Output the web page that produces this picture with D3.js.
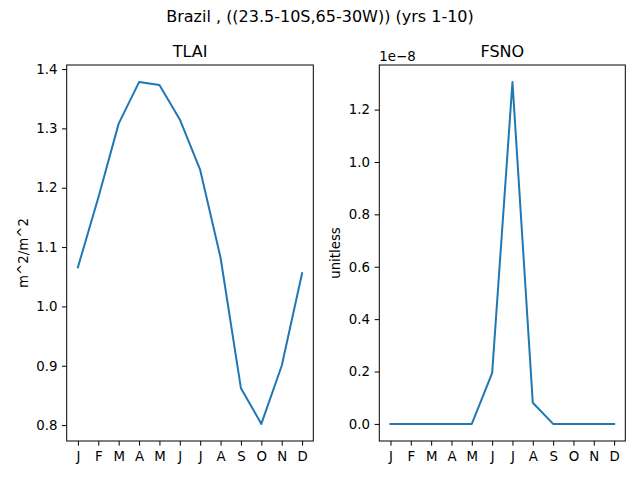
<!DOCTYPE html>
<meta charset="utf-8">
<style>
body { margin: 0; background: #fff; }
text { font-family: "DejaVu Sans", sans-serif; fill: #000; }
.tick text { font-size: 13.33px; }
.domain, .tick line { stroke: #000; stroke-width: 1; }
</style>
<body>
<script src="https://d3js.org/d3.v7.min.js"></script>
<script>

width = 640;
height = 480;

months = ["J", "F", "M", "A", "M", "J", "J", "A", "S", "O", "N", "D"];

// monthly means
tlai = [1.066, 1.183, 1.308, 1.378, 1.373, 1.315, 1.230, 1.082, 0.862, 0.802, 0.900, 1.056];
fsno = [0, 0, 0, 0, 0, 0.194e-8, 1.305e-8, 0.081e-8, 0, 0, 0, 0];

tlaiTicks = [0.8, 0.9, 1.0, 1.1, 1.2, 1.3, 1.4];
fsnoTicks = [0, 0.2e-8, 0.4e-8, 0.6e-8, 0.8e-8, 1.0e-8, 1.2e-8];

panels = [
  {title: "TLAI", ylabel: "m^2/m^2", values: tlai, ticks: tlaiTicks,
   left: 66.7, right: 313.3, labelX: 27.5, fmt: d => d.toFixed(1), offset: null},
  {title: "FSNO", ylabel: "unitless", values: fsno, ticks: fsnoTicks,
   left: 379.3, right: 625.3, labelX: 340, fmt: d => (d / 1e-8).toFixed(1), offset: "1e\u22128"}
];

top_ = 65;
bottom = 441;

var svg = d3.select("body").append("svg")
    .attr("width", width)
    .attr("height", height);

svg.append("text")
    .attr("x", width / 2)
    .attr("y", 22)
    .attr("text-anchor", "middle")
    .style("font-size", "16px")
    .text("Brazil , ((23.5-10S,65-30W)) (yrs 1-10)");

panels.forEach(p => {
  var x = d3.scaleLinear([-0.55, 11.55], [p.left, p.right]);
  var ext = d3.extent(p.values);
  var pad = (ext[1] - ext[0]) * 0.05;
  var y = d3.scaleLinear([ext[0] - pad, ext[1] + pad], [bottom, top_]);

  var g = svg.append("g");

  g.append("g")
      .attr("transform", `translate(0,${bottom})`)
      .call(d3.axisBottom(x).tickValues(d3.range(12)).tickFormat(i => months[i])
        .tickSize(4.67).tickPadding(4.67).tickSizeOuter(0))
      .call(a => a.select(".domain").remove())
      .selectAll("text").attr("dy", "0.75em").attr("y", 9.6);

  g.append("g")
      .attr("transform", `translate(${p.left},0)`)
      .call(d3.axisLeft(y).tickValues(p.ticks).tickFormat(p.fmt)
        .tickSize(4.67).tickPadding(4.67).tickSizeOuter(0))
      .call(a => a.select(".domain").remove());

  g.append("rect")
      .attr("x", p.left)
      .attr("y", top_)
      .attr("width", p.right - p.left)
      .attr("height", bottom - top_)
      .attr("fill", "none")
      .attr("stroke", "#000")
      .attr("stroke-width", 1);

  g.append("path")
      .datum(p.values)
      .attr("fill", "none")
      .attr("stroke", "#1f77b4")
      .attr("stroke-width", 2)
      .attr("stroke-linejoin", "round")
      .attr("stroke-linecap", "square")
      .attr("d", d3.line().x((d, i) => x(i)).y(d => y(d)));

  g.append("text")
      .attr("x", (p.left + p.right) / 2)
      .attr("y", top_ - 8)
      .attr("text-anchor", "middle")
      .style("font-size", "16px")
      .text(p.title);

  g.append("text")
      .attr("transform", `translate(${p.labelX},${(top_ + bottom) / 2}) rotate(-90)`)
      .attr("text-anchor", "middle")
      .style("font-size", "13.33px")
      .text(p.ylabel);

  if (p.offset) {
    g.append("text")
        .attr("x", p.left)
        .attr("y", top_ - 4)
        .style("font-size", "13.33px")
        .text(p.offset);
  }
});

</script>
